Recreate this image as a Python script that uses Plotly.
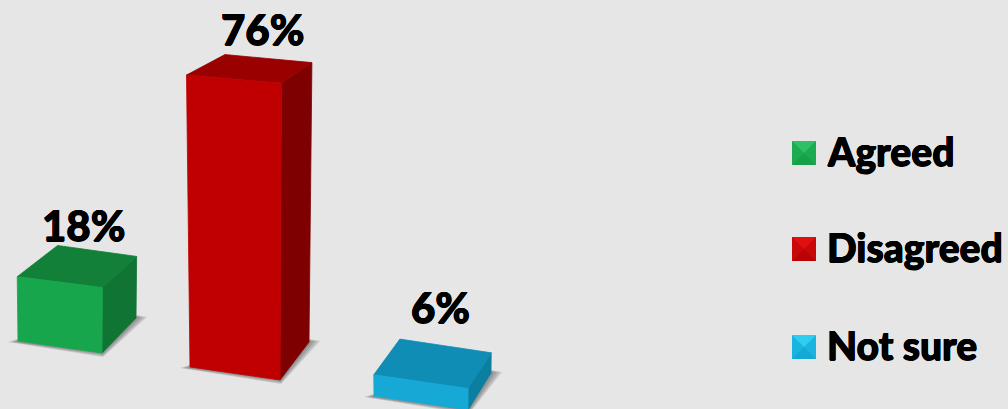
import plotly.graph_objects as go

# Survey result
categories = ["Agreed", "Disagreed", "Not sure"]
percentages = [18, 76, 6]

# Bar faces and legend key shades
front_colors = ["#17a64b", "#c00000", "#17a9d6"]
top_colors = ["#128038", "#990000", "#0f8db5"]
side_colors = ["#0f7434", "#7f0000", "#0b7f9f"]
key_light = ["#2fc064", "#e01010", "#2fcdf0"]
key_mid = ["#1bab50", "#c80808", "#1ab4e0"]
key_dark = ["#17a048", "#b80404", "#16a8d4"]

# Pseudo-3D projection onto the page: origin of each bar, width and depth vectors
WIDTH, HEIGHT = 1008, 409
origins = [(18, 341), (190, 367), (374, 396)]
width_vectors = [(84, 12), (90, 13), (94, 14)]
depth_vectors = [(34, -35), (29, -38), (23, -37)]
left_edge_spread = [6, 8, 3]
PX_PER_PCT = 3.5
FORESHORTEN = 0.00117

# Value label placement relative to the back edge of each top face
label_shift_x = [-14, -6, -5]
label_gap_y = [21, 26, 32]

legend_rows = [153, 249, 347]
LEGEND_TEXT_LIFT = 2
LEGEND_KEY_X = 792
LEGEND_KEY_SIZE = 24
LEGEND_TEXT_X = 825

# Thickens the glyphs beyond the heaviest installed weight
HEAVY = "0.5px 0 0 #000, -0.5px 0 0 #000, 0 0.5px 0 #000, 0 -0.5px 0 #000"


def project(i, u, d, value):
    """Map bar i's (across, into page, percent) coordinates to the page."""
    h = PX_PER_PCT * value / (1 - FORESHORTEN * value)
    ox, oy = origins[i]
    wx, wy = width_vectors[i]
    dx, dy = depth_vectors[i]
    wx, wy = wx + 0.017 * h, wy - 0.017 * h
    dx, dy = dx + 0.005 * h, dy + 0.06 * h
    spread = d * (1 - u) * left_edge_spread[i] * min(h / 20, 1)
    return (ox + u * wx + d * dx + spread - 0.012 * h, oy + u * wy + d * dy - h)


fig = go.Figure()


def polygon(points, color, opacity=1.0, edge=True):
    xs = [p[0] for p in points] + [points[0][0]]
    ys = [p[1] for p in points] + [points[0][1]]
    fig.add_trace(go.Scatter(
        x=xs, y=ys, mode="lines", fill="toself", fillcolor=color, opacity=opacity,
        line=dict(color=color, width=0.8 if edge else 0), hoverinfo="skip", showlegend=False,
    ))


for i, value in enumerate(percentages):
    flb, frb, brb = project(i, 0, 0, 0), project(i, 1, 0, 0), project(i, 1, 1, 0)
    flt, frt, brt, blt = (project(i, 0, 0, value), project(i, 1, 0, value),
                          project(i, 1, 1, value), project(i, 0, 1, value))

    # Soft floor shadow along the front and right edges
    for spread in (1.0, 0.75, 0.5, 0.25):
        polygon([(flb[0] - 10 * spread, flb[1] + 1), (frb[0] + 1, frb[1] + 4 * spread),
                 (brb[0] + 11 * spread, brb[1] - 1 * spread), (brb[0] - 6, brb[1] - 4),
                 (flb[0] + 6, flb[1] - 4)],
                "#5a5a5a", opacity=0.2, edge=False)

    polygon([frb, brb, brt, frt], side_colors[i])
    polygon([flt, frt, brt, blt], top_colors[i])
    polygon([flb, frb, frt, flt], front_colors[i])

# Bevelled legend keys: a flat square with a lighter top and a darker bottom facet
for i, row in enumerate(legend_rows):
    x0, x1 = LEGEND_KEY_X, LEGEND_KEY_X + LEGEND_KEY_SIZE
    y0, y1 = row - LEGEND_KEY_SIZE / 2, row + LEGEND_KEY_SIZE / 2
    mid = ((x0 + x1) / 2, (y0 + y1) / 2)
    polygon([(x0, y0), (x1, y0), (x1, y1), (x0, y1)], key_mid[i], edge=False)
    polygon([(x0, y1), (x1, y1), mid], key_dark[i], edge=False)
    polygon([(x0, y0), (x1, y0), mid], key_light[i], edge=False)

# Value labels sit above each bar's top face
label_font = dict(family="Lato", size=42, color="#000000", weight=900, shadow=HEAVY)
for i, value in enumerate(percentages):
    back_left, back_right = project(i, 0, 1, value), project(i, 1, 1, value)
    fig.add_annotation(x=(back_left[0] + back_right[0]) / 2 + label_shift_x[i],
                       y=back_left[1] - label_gap_y[i],
                       text=f"{value}%", showarrow=False, font=label_font,
                       xanchor="center", yanchor="middle")

for name, row in zip(categories, legend_rows):
    fig.add_annotation(x=LEGEND_TEXT_X, y=row - LEGEND_TEXT_LIFT, text=name, showarrow=False,
                       font=dict(family="Lato", size=39, color="#000000", weight=900, shadow=HEAVY),
                       xanchor="left", yanchor="middle")

fig.update_layout(
    width=WIDTH, height=HEIGHT, margin=dict(l=0, r=0, t=0, b=0),
    paper_bgcolor="#e6e6e6", plot_bgcolor="#e6e6e6", showlegend=False,
    xaxis=dict(range=[0, WIDTH], visible=False, fixedrange=True),
    yaxis=dict(range=[HEIGHT, 0], visible=False, fixedrange=True),
)
fig.write_html("out.html", config={"displayModeBar": False})
